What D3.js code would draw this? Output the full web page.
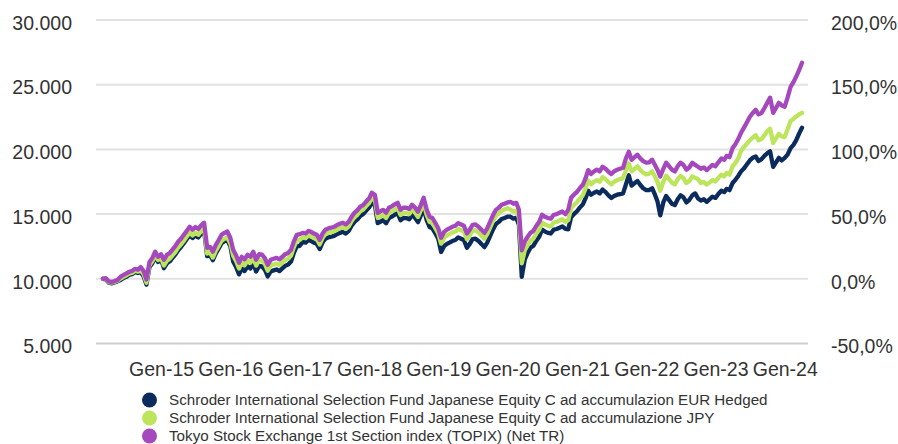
<!DOCTYPE html>
<html>
<head>
<meta charset="utf-8">
<script src="https://cdn.jsdelivr.net/npm/d3@7"></script>
<style>
  body { margin: 0; background: #fff; }
  svg { display: block; font-family: "Liberation Sans", Arial, sans-serif; }
</style>
</head>
<body>
<svg id="chart" width="898" height="444"></svg>
<script>
// Axis ticks
const yearTicks = [2015, 2016, 2017, 2018, 2019, 2020, 2021, 2022, 2023, 2024];
const leftTicks = [5000, 10000, 15000, 20000, 25000, 30000];
const rightTicks = [-50, 0, 50, 100, 150, 200];

// Series (growth of 10.000, semi-monthly from March 2014)
const seriesNames = [
  "Schroder International Selection Fund Japanese Equity C ad accumulazion EUR Hedged",
  "Schroder International Selection Fund Japanese Equity C ad accumulazione JPY",
  "Tokyo Stock Exchange 1st Section index (TOPIX) (Net TR)"
];
const seriesColors = ["#0b2b5c", "#bde55c", "#a548be"];

const fundEurHedged = [
  10000,9950,9700,9650,9720,9800,9900,10050,10150,10300,10350,10520,
  10450,10500,10200,9550,10900,11200,11690,11300,11480,10820,11200,11350,
  11590,11850,12210,12450,12750,13050,13370,13150,13350,13200,13500,13680,
  11750,11820,11440,11950,12350,12750,12900,13000,12520,11340,10900,10340,
  10800,10600,10960,10800,11190,10570,11000,10960,10700,10180,10570,10650,
  10720,10600,10800,11000,11100,11340,12000,12500,12550,12850,12800,13000,
  12930,12800,12700,12300,12800,13090,13200,13250,13320,13450,13550,13630,
  13500,13700,14100,14400,14600,14870,15000,15250,15500,15850,15700,14300,
  14400,14530,14300,14690,14800,14950,15070,14530,14700,14690,14600,14920,
  14700,14380,14900,15460,14530,14000,13900,13530,13100,12070,12530,12700,
  12800,12920,13000,13200,13100,13000,12400,12700,13070,13100,12920,12700,
  12450,12800,13300,13800,14230,14400,14620,14700,14800,14800,14650,14720,
  14180,10150,11500,12000,12400,12550,12950,13250,13800,13650,13550,13500,
  13800,13850,13950,14050,13850,13830,14760,15000,15220,15500,15750,16250,
  16800,16500,16650,16750,16600,16900,16700,16450,16250,16400,16500,16550,
  16600,17300,18000,17200,17400,17550,17250,17000,16850,16850,17000,16500,
  16000,14900,15900,16400,16100,15800,15700,16150,16450,16300,15900,16100,
  16450,16600,16200,16050,16150,15950,16150,16350,16250,16550,16800,16700,
  16950,16850,17400,17650,17950,18300,18550,18850,19150,19350,19450,19100,
  19250,19500,19700,19850,18650,19000,19350,19150,19350,19600,20100,20350,
  20700,21200,21670
];

const fundJpy = [
  10000,10000,9750,9700,9760,9850,10000,10150,10250,10400,10450,10620,
  10550,10650,10350,9700,11050,11350,11840,11450,11600,11020,11400,11550,
  11790,12050,12410,12650,12950,13250,13570,13350,13550,13400,13700,13880,
  11950,12020,11640,12150,12550,12950,13100,13200,12720,11790,11350,10790,
  11250,11050,11410,11250,11640,11020,11450,11410,11150,10630,11020,11100,
  11170,11050,11250,11450,11550,11790,12450,12950,13000,13200,13150,13350,
  13280,13150,13050,12650,13150,13440,13550,13600,13670,13800,13900,13980,
  13850,14050,14450,14750,14950,15220,15350,15600,15850,16250,16100,14700,
  14800,14930,14700,15090,15200,15350,15470,14930,15100,15090,15000,15320,
  15100,14780,15300,15860,14930,14400,14300,13930,13500,12720,13180,13350,
  13450,13570,13650,13850,13750,13650,13050,13350,13720,13750,13570,13350,
  13100,13450,13950,14450,14880,15050,15270,15350,15450,15350,15200,15270,
  14730,11200,12200,12600,12950,13100,13500,13800,14350,14200,14100,14050,
  14350,14400,14500,14600,14400,14530,15460,15700,15920,16200,16470,17000,
  17600,17300,17500,17630,17500,17860,17700,17470,17300,17500,17630,17700,
  17780,18400,18920,18300,18500,18690,18400,18200,18070,18100,18300,17900,
  17500,16800,17500,17970,17700,17430,17300,17700,17950,17780,17400,17560,
  17900,17800,17700,17400,17480,17280,17450,17630,17520,17800,18050,17920,
  18180,18050,18700,18950,19300,19900,20200,20450,20700,20900,21100,20700,
  20800,21100,21400,21600,20500,20850,21200,21000,20950,21550,22200,22350,
  22550,22700,22830
];

const topix = [
  10000,10050,9800,9750,9820,9900,10150,10300,10400,10540,10600,10770,
  10700,10900,10600,9950,11300,11600,12090,11700,11900,11470,11850,12000,
  12240,12500,12860,13100,13400,13700,14020,13800,14000,13850,14150,14330,
  12400,12470,12090,12600,13000,13400,13550,13650,13170,12240,11800,11240,
  11700,11500,11860,11700,12090,11470,11900,11860,11600,11080,11470,11550,
  11620,11500,11700,11900,12000,12240,12900,13400,13450,13550,13500,13700,
  13630,13500,13400,13000,13500,13790,13900,13950,14020,14150,14250,14330,
  14200,14400,14800,15100,15300,15570,15700,15950,16200,16650,16500,15100,
  15200,15330,15100,15490,15600,15750,15870,15330,15500,15490,15400,15720,
  15500,15180,15700,16260,15330,14800,14700,14330,13900,13170,13630,13800,
  13900,14020,14100,14300,14200,14100,13500,13800,14170,14200,14020,13800,
  13550,13900,14400,14900,15330,15500,15720,15800,15900,15950,15800,15870,
  15330,12200,12900,13250,13550,13700,14100,14400,14950,14800,14700,14650,
  14950,15000,15100,15200,15000,15330,16260,16500,16720,17000,17270,17800,
  18400,18100,18300,18430,18300,18660,18500,18270,18100,18300,18430,18500,
  18580,19300,19820,19200,19400,19590,19300,19100,18970,19000,19200,18800,
  18430,17900,18500,18970,18700,18430,18300,18700,18970,18800,18430,18600,
  18970,18800,18660,18500,18600,18400,18600,18800,18700,19000,19300,19200,
  19500,19400,20100,20400,20800,21290,21700,22100,22520,22800,23060,22700,
  22830,23200,23600,24000,22830,23200,23600,23400,23300,24000,24840,25200,
  25610,26100,26700
];

const seriesValues = [fundEurHedged, fundJpy, topix];

// Observation dates: 1st and 16th of each month, starting March 2014
const dates = d3.range(topix.length).map(i =>
  new Date(2014, 2 + Math.floor(i / 2), i % 2 ? 16 : 1));

const it = d3.formatLocale({
  decimal: ",", thousands: ".", grouping: [3], currency: ["€", ""], minus: "-"
});
const fmtLeft = it.format(",.0f");
const fmtRight = v => it.format(".1f")(v) + "%";

const svg = d3.select("#chart");
const gridLeft = 96, gridRight = 808;
const plotTop = 20, plotBottom = 343.5;
const textColor = "#333333";
const fontSize = "19.5px";
const fontFamily = '"Liberation Sans", Arial, sans-serif';

const x = d3.scaleTime()
  .domain([dates[0], dates[dates.length - 1]])
  .range([103, 802]);
const yLeft = d3.scaleLinear().domain([5000, 30000]).range([plotBottom, plotTop]);
const yRight = d3.scaleLinear().domain([-50, 200]).range([plotBottom, plotTop]);

// Horizontal gridlines
svg.append("g")
  .selectAll("line")
  .data(leftTicks)
  .join("line")
  .attr("x1", gridLeft).attr("x2", gridRight)
  .attr("y1", d => yLeft(d)).attr("y2", d => yLeft(d))
  .attr("stroke", d => d === 5000 ? "#cdcdcd" : "#e2e2e2")
  .attr("stroke-width", 2);

// Left axis
const gL = svg.append("g")
  .attr("transform", `translate(${gridLeft},0)`)
  .call(d3.axisLeft(yLeft).tickValues(leftTicks).tickFormat(fmtLeft)
    .tickSize(0).tickPadding(24));
gL.select(".domain").remove();
gL.selectAll("text")
  .attr("y", 3)
  .attr("fill", textColor)
  .style("font-size", fontSize)
  .style("font-family", fontFamily);

// Right axis
const gR = svg.append("g")
  .attr("transform", `translate(${gridRight},0)`)
  .call(d3.axisRight(yRight).tickValues(rightTicks).tickFormat(fmtRight)
    .tickSize(0).tickPadding(23));
gR.select(".domain").remove();
gR.selectAll("text")
  .attr("y", 3)
  .attr("fill", textColor)
  .style("font-size", fontSize)
  .style("font-family", fontFamily);

// Bottom axis: January of each year
const gX = svg.append("g")
  .attr("transform", `translate(0,${plotBottom})`)
  .call(d3.axisBottom(x)
    .tickValues(yearTicks.map(yr => new Date(yr, 0, 1)))
    .tickFormat(d => "Gen-" + d3.timeFormat("%y")(d))
    .tickSize(0).tickPadding(19));
gX.select(".domain").remove();
gX.selectAll("text")
  .attr("fill", textColor)
  .style("font-size", fontSize)
  .style("font-family", fontFamily);

// Lines (benchmark drawn last, on top)
const line = d3.line()
  .x((d, i) => x(dates[i]))
  .y(d => yLeft(d));

svg.append("g")
  .selectAll("path")
  .data(seriesValues)
  .join("path")
  .attr("d", d => line(d))
  .attr("fill", "none")
  .attr("stroke", (d, i) => seriesColors[i])
  .attr("stroke-width", 4.3)
  .attr("stroke-linejoin", "round")
  .attr("stroke-linecap", "round");

// Legend
const legend = svg.append("g");
const rows = legend.selectAll("g")
  .data(seriesNames)
  .join("g")
  .attr("transform", (d, i) => `translate(149.5,${400 + i * 18})`);
rows.append("circle")
  .attr("r", 7.5)
  .attr("fill", (d, i) => seriesColors[i]);
rows.append("text")
  .attr("x", 19.5)
  .attr("dy", "0.36em")
  .attr("fill", textColor)
  .style("font-size", "15.2px")
  .text(d => d);
</script>
</body>
</html>
